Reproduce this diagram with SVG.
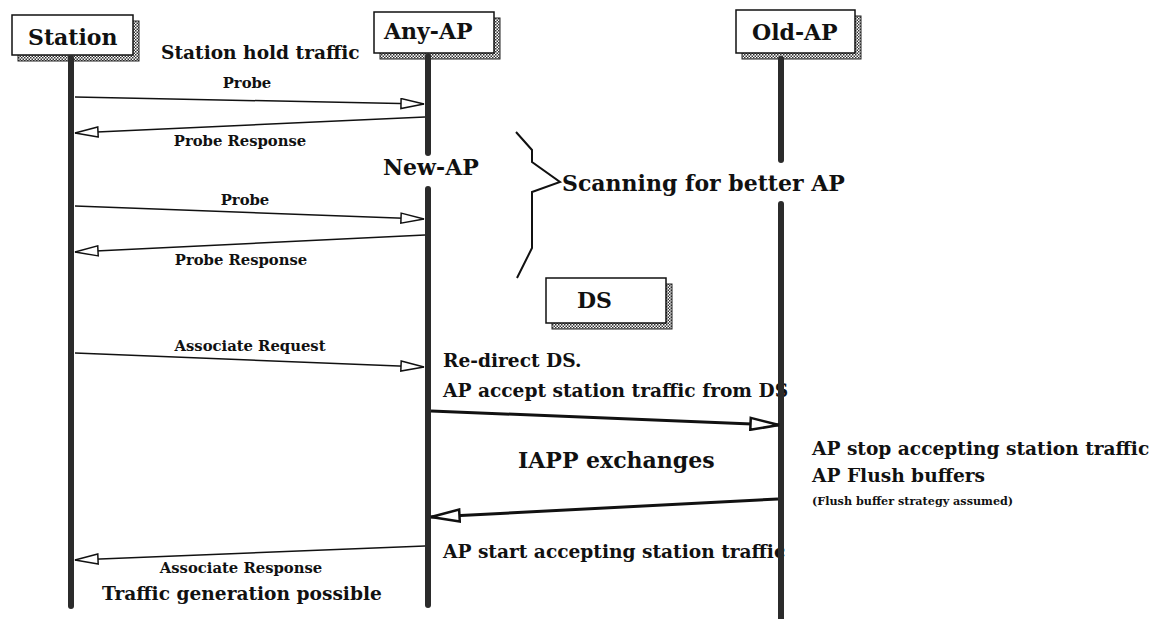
<svg xmlns="http://www.w3.org/2000/svg" width="1156" height="619" viewBox="0 0 1156 619">
<style>
text{font-family:"DejaVu Serif","Liberation Serif",serif;font-weight:bold;fill:#111}
.hd{font-size:22px}
.md{font-size:18.6px}
.sm{font-size:14.8px}
.xs{font-size:11.2px}
.box{fill:#fff;stroke:#111;stroke-width:1.5}
.shadow{fill:url(#dither);stroke:#222;stroke-width:1}
.life{stroke:#2b2b2b;stroke-width:6;stroke-linecap:round;fill:none}
.msg{stroke:#111;stroke-width:1.5;fill:none;marker-end:url(#ah)}
.msg2{stroke:#111;stroke-width:3;fill:none;marker-end:url(#ah2)}
.brace{stroke:#111;stroke-width:2;fill:none;stroke-linejoin:miter}
</style>
<defs>
<pattern id="dither" width="3" height="3" patternUnits="userSpaceOnUse">
<rect width="3" height="3" fill="#fff"/>
<rect width="1.5" height="1.5" fill="#333"/>
<rect x="1.5" y="1.5" width="1.5" height="1.5" fill="#333"/>
</pattern>
<marker id="ah" viewBox="0 0 25 12" refX="24" refY="6" markerWidth="25" markerHeight="12" markerUnits="userSpaceOnUse" orient="auto">
<path d="M1,1 L24,6 L1,11 Z" fill="#fff" stroke="#111" stroke-width="1.5"/>
</marker>
<marker id="ah2" viewBox="0 0 32 15" refX="30" refY="7.5" markerWidth="32" markerHeight="15" markerUnits="userSpaceOnUse" orient="auto">
<path d="M1.5,1.5 L30,7.5 L1.5,13.5 Z" fill="#fff" stroke="#111" stroke-width="2.5"/>
</marker>
</defs>
<rect width="1156" height="619" fill="#fff"/>

<g id="node-station">
<rect class="shadow" x="18" y="21" width="121" height="40"/>
<rect class="box" x="12" y="15" width="121" height="40"/>
<text class="hd" x="28" y="45">Station</text>
</g>
<g id="node-any-ap">
<rect class="shadow" x="380" y="18" width="120" height="41"/>
<rect class="box" x="374" y="12" width="120" height="41"/>
<text class="hd" x="384" y="39">Any-AP</text>
</g>
<g id="node-old-ap">
<rect class="shadow" x="742" y="16" width="119" height="43"/>
<rect class="box" x="736" y="10" width="119" height="43"/>
<text class="hd" x="752" y="40">Old-AP</text>
</g>
<g id="node-ds">
<rect class="shadow" x="552" y="284" width="120" height="45"/>
<rect class="box" x="546" y="278" width="120" height="45"/>
<text class="hd" x="577" y="308">DS</text>
</g>
<g id="node-new-ap">
<text class="hd" x="383" y="175">New-AP</text>
</g>

<g id="labels">
<text class="md" x="161" y="59">Station hold traffic</text>
<text class="hd" x="562" y="191">Scanning for better AP</text>
<text class="md" x="443" y="367">Re-direct DS.</text>
<text class="md" x="443" y="397">AP accept station traffic from DS</text>
<text class="hd" x="518" y="468">IAPP exchanges</text>
<text class="md" x="812" y="455">AP stop accepting station traffic</text>
<text class="md" x="812" y="482">AP Flush buffers</text>
<text class="xs" x="812" y="505">(Flush buffer strategy assumed)</text>
<text class="md" x="443" y="558">AP start accepting station traffic</text>
<text class="md" x="102" y="600">Traffic generation possible</text>
</g>

<g id="lifelines">
<line class="life" x1="71" y1="58" x2="71" y2="606"/>
<line class="life" x1="428" y1="56" x2="428" y2="153"/>
<line class="life" x1="428" y1="189" x2="428" y2="605"/>
<line class="life" x1="781" y1="59" x2="781" y2="160"/>
<line class="life" x1="781" y1="204" x2="781" y2="625"/>
</g>

<g id="connectors">
<line class="msg" x1="75" y1="97" x2="424" y2="104"/>
<text class="sm" x="247" y="88" text-anchor="middle">Probe</text>
<line class="msg" x1="425" y1="117" x2="75" y2="133"/>
<text class="sm" x="240" y="146" text-anchor="middle">Probe Response</text>
<line class="msg" x1="75" y1="206" x2="424" y2="219"/>
<text class="sm" x="245" y="205" text-anchor="middle">Probe</text>
<line class="msg" x1="425" y1="235" x2="75" y2="252"/>
<text class="sm" x="241" y="265" text-anchor="middle">Probe Response</text>
<line class="msg" x1="75" y1="353" x2="424" y2="367"/>
<text class="sm" x="250" y="351" text-anchor="middle">Associate Request</text>
<line class="msg2" x1="431" y1="411" x2="779" y2="425"/>
<line class="msg2" x1="778" y1="499" x2="431" y2="517"/>
<line class="msg" x1="425" y1="546" x2="75" y2="560"/>
<text class="sm" x="241" y="573" text-anchor="middle">Associate Response</text>
<path class="brace" d="M516,132 L532,150 L532,162 L560,182 L532,192 L532,248 L517,278"/>
</g>
</svg>
